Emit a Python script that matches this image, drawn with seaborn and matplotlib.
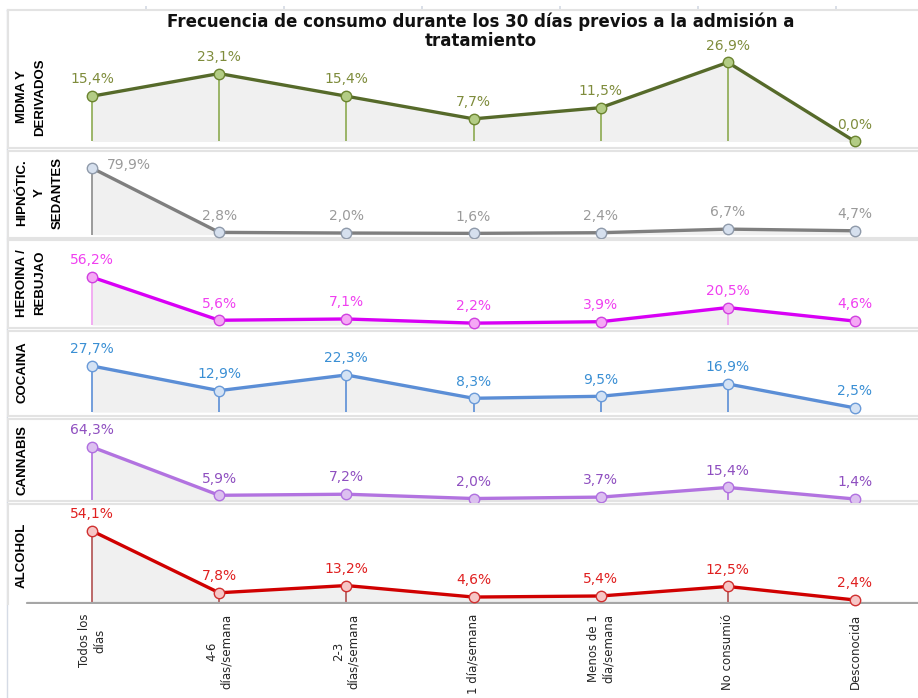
import numpy as np
import pandas as pd
import matplotlib
matplotlib.use("Agg")
import matplotlib.pyplot as plt
import seaborn as sns

# ---------------- data ----------------
categories = ["Todos los\ndías", "4-6\ndías/semana", "2-3\ndías/semana", "1 día/semana",
              "Menos de 1\ndía/semana", "No consumió", "Desconocida"]
panel_names = ["MDMA Y\nDERIVADOS", "HIPNÓTIC.\nY\nSEDANTES", "HEROINA /\nREBUJAO",
               "COCAINA", "CANNABIS", "ALCOHOL"]
mdma = [15.4, 23.1, 15.4, 7.7, 11.5, 26.9, 0.0]
hipnot = [79.9, 2.8, 2.0, 1.6, 2.4, 6.7, 4.7]
heroina = [56.2, 5.6, 7.1, 2.2, 3.9, 20.5, 4.6]
cocaina = [27.7, 12.9, 22.3, 8.3, 9.5, 16.9, 2.5]
cannabis = [64.3, 5.9, 7.2, 2.0, 3.7, 15.4, 1.4]
alcohol = [54.1, 7.8, 13.2, 4.6, 5.4, 12.5, 2.4]
series = [mdma, hipnot, heroina, cocaina, cannabis, alcohol]
title_lines = ["Frecuencia de consumo durante los 30 días previos a la admisión a",
               "tratamiento"]

# ---------------- styles ----------------
styles = [
    dict(line="#566a2a", face="#b3cc85", edge="#6b8430", label="#7f8c3c", drop="#8caa50"),
    dict(line="#7f7f7f", face="#d6e0ee", edge="#8f9aaa", label="#9a9a9a", drop="#8a8a8a"),
    dict(line="#d800f5", face="#f5a8f5", edge="#d040e0", label="#f040f0", drop="#f0a0f0"),
    dict(line="#5b8ed6", face="#d4e2f4", edge="#6a9ad8", label="#3a8fd4", drop="#5b8ed6"),
    dict(line="#b273e0", face="#dcc0f0", edge="#b070e0", label="#8f4fc0", drop="#b070e0"),
    dict(line="#d00000", face="#f6c6c6", edge="#d03030", label="#e02020", drop="#b05050"),
]
# panel pixel layout: (top, bottom, ymin, ymax, label_center_y)
panels = [
    (10, 148, -2.21, 44.7, 97),
    (151, 238, -3.96, 100.4, 193),
    (240, 328, -3.5, 99.8, 283),
    (331, 416, -2.34, 48.7, 372),
    (419, 501, -1.0, 98.2, 460),
    (504, 604, -0.6, 74.2, 555),
]

sns.set_theme(style="white")
plt.rcParams["font.family"] = ["DejaVu Sans"]

W, H = 918, 698
fig = plt.figure(figsize=(W / 100, H / 100), dpi=100)

# background frame (left line with ticks, top line with ticks)
bg = fig.add_axes([7 / W, 0, (W - 7) / W, (H - 10) / H], zorder=-5)
bg.set_xlim(0, W - 7)
bg.set_ylim(H - 10, 0)
bg.patch.set_alpha(0)
for s in ["right", "bottom"]:
    bg.spines[s].set_visible(False)
for s in ["left", "top"]:
    bg.spines[s].set_color("#d5dbe5")
    bg.spines[s].set_linewidth(1.0)
bg.xaxis.set_ticks_position("top")
bg.set_xticks(np.arange(139, W - 7, 138))
bg.set_yticks(np.arange(19, H - 10, 22.6))
bg.tick_params(axis="both", direction="out", length=3, color="#d5dbe5",
               labelleft=False, labeltop=False, labelbottom=False)

x_idx = np.arange(len(categories))
unit = (855 - 92) / 6
xmin = -(92 - 8) / unit
xmax = 6 + (918 - 855) / unit

for i, (vals, st, (top, bot, y0, y1, lc), name) in enumerate(zip(series, styles, panels, panel_names)):
    ax = fig.add_axes([8 / W, 1 - bot / H, (W - 8) / W, (bot - top) / H])
    df = pd.DataFrame({"x": x_idx, "v": vals})
    ax.fill_between(df["x"], 0, df["v"], color="#f0f0f0", zorder=0, lw=0)
    ax.vlines(df["x"], 0, df["v"], color=st["drop"], lw=1.2, zorder=1)
    sns.lineplot(data=df, x="x", y="v", ax=ax, color=st["line"], lw=2.4,
                 marker="o", markersize=7.5, markerfacecolor=st["face"],
                 markeredgecolor=st["edge"], markeredgewidth=1.0, clip_on=False, zorder=3)
    for xv, v in zip(df["x"], df["v"]):
        txt = f"{v:.1f}".replace(".", ",") + "%"
        if i == 1 and xv == 0:
            ax.annotate(txt, (xv, v), xytext=(11, 2), textcoords="offset points",
                        ha="left", va="center", fontsize=10, color=st["label"])
        else:
            ax.annotate(txt, (xv, v), xytext=(0, 7), textcoords="offset points",
                        ha="center", va="bottom", fontsize=10, color=st["label"])
    ax.set_xlim(xmin, xmax)
    ax.set_ylim(y0, y1)
    ax.set_xlabel("")
    ax.set_ylabel("")
    ax.set_yticks([])
    ax.spines["right"].set_visible(False)
    for s in ["left", "top", "bottom"]:
        ax.spines[s].set_color("#e3e3e3")
        ax.spines[s].set_linewidth(1.5)
    if i < len(series) - 1:
        ax.set_xticks([])
    else:
        ax.spines["bottom"].set_visible(False)
        ax.axhline(0, xmin=(27 - 8) / (W - 8), xmax=1, color="#a6a6a6", lw=1.6, zorder=2)
        ax.set_xticks(x_idx)
        ax.set_xticklabels(categories, rotation=90, fontsize=8.5, multialignment="center",
                           va="top", ha="center")
        ax.tick_params(axis="x", length=0, pad=7)
    fig.text(16 / W, 1 - lc / H, name, rotation=90, ha="left", va="center",
             multialignment="center", fontsize=9.5, fontweight="bold", color="black",
             linespacing=1.65,
             family=["Liberation Sans Narrow", "Liberation Sans", "DejaVu Sans"])

fig.text(481 / W, 1 - 22 / H, title_lines[0], ha="center", va="center", fontsize=12,
         fontweight="bold", color="#111111")
fig.text(481 / W, 1 - 41 / H, title_lines[1], ha="center", va="center", fontsize=12,
         fontweight="bold", color="#111111")

fig.savefig("out.png", dpi=100)
